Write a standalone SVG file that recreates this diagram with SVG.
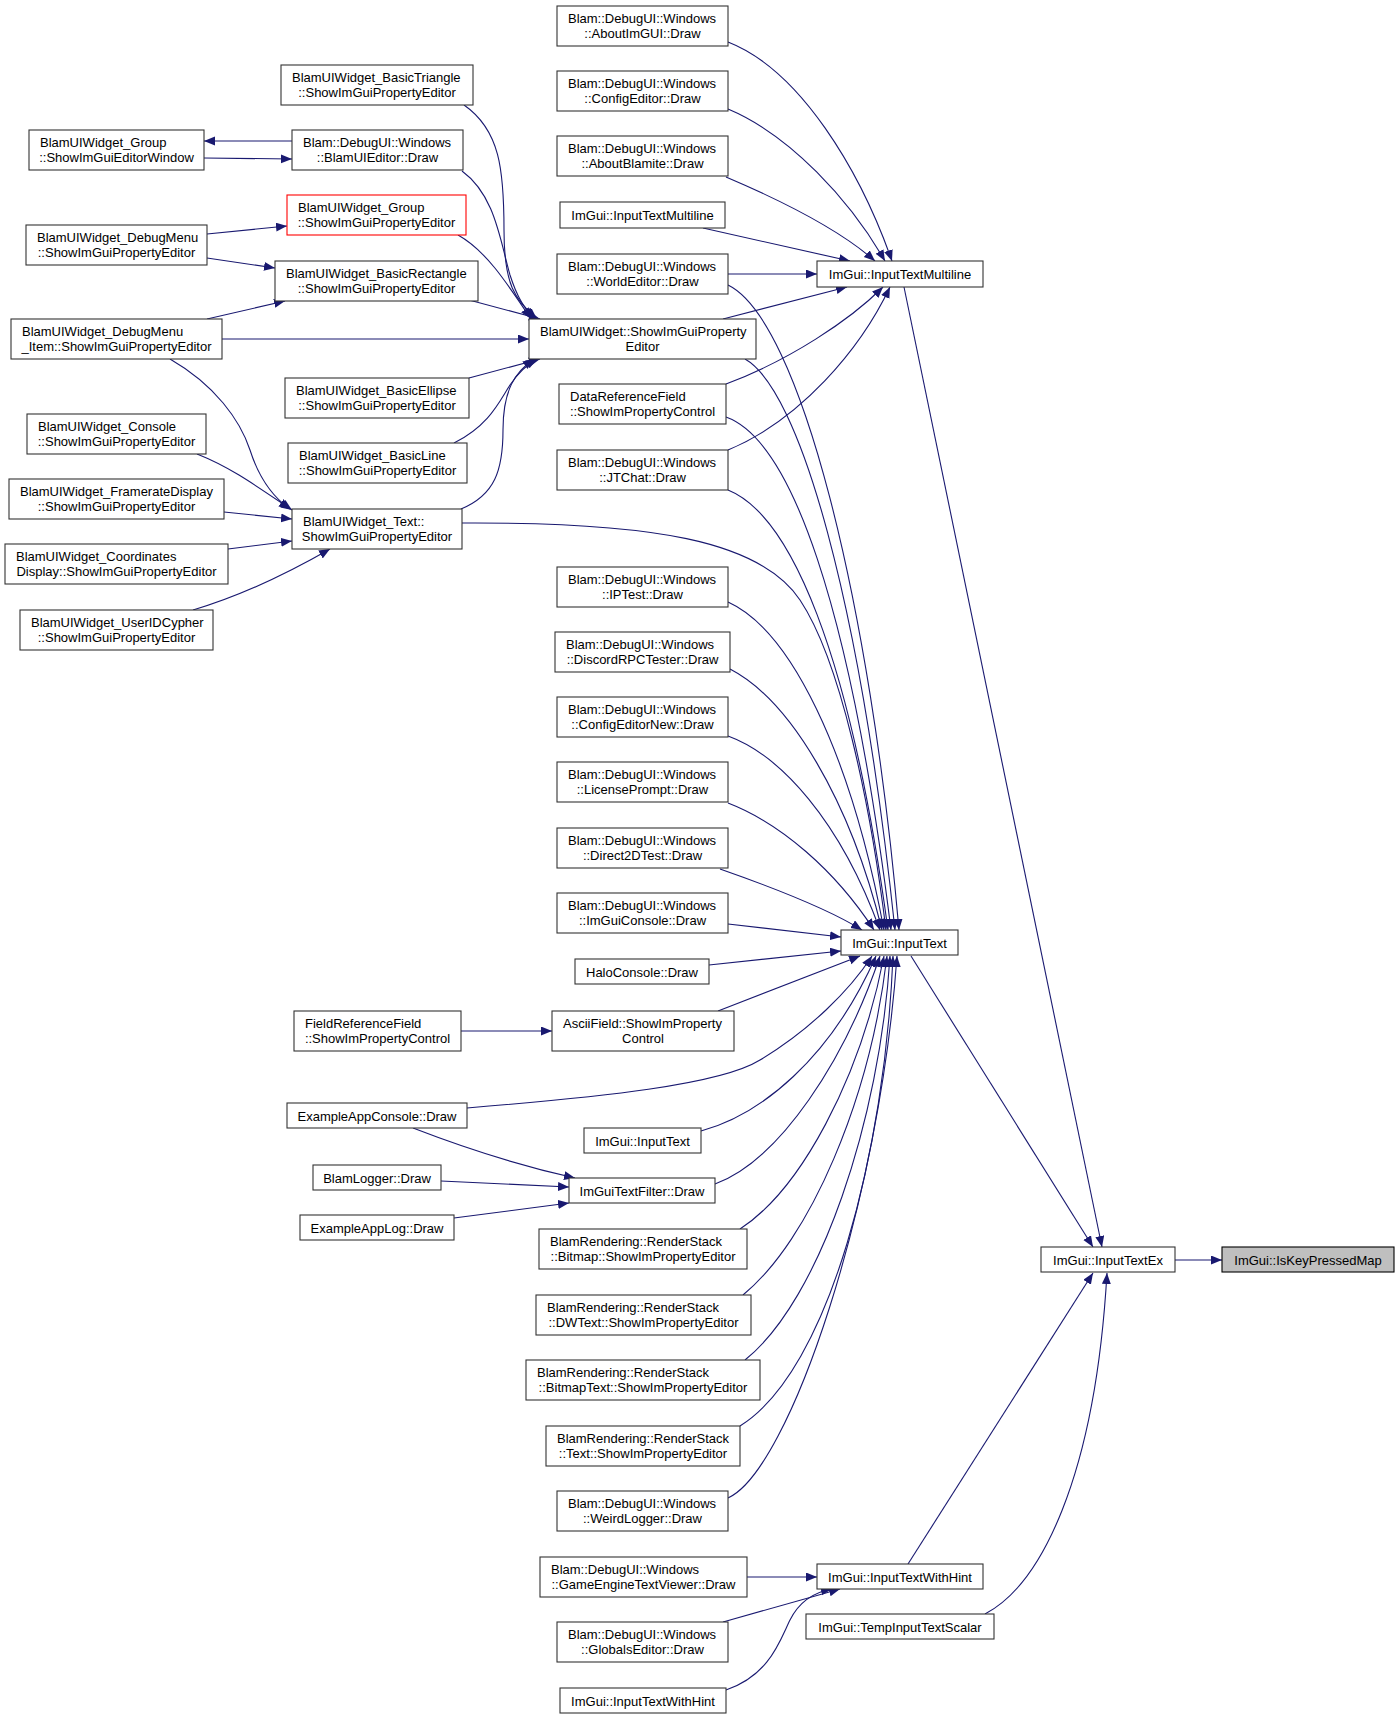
<svg xmlns="http://www.w3.org/2000/svg" width="1400" height="1719" viewBox="0 0 1400 1719">
<style>
rect{fill:#fff;stroke:#333;stroke-width:1.1}
.red rect{stroke:#ff0000}
.sel rect{fill:#bfbfbf;stroke:#000}
text{font-family:"Liberation Sans",Arial,sans-serif;font-size:13px;fill:#000}
.m{text-anchor:middle}
#edges path{fill:none;stroke:#191970;stroke-width:1.1;marker-end:url(#a)}
</style>
<defs>
<marker id="a" markerWidth="12" markerHeight="10" refX="11" refY="4.5" orient="auto" markerUnits="userSpaceOnUse"><path d="M0,0 L11,4.5 L0,9 z" fill="#191970"/></marker>
</defs>
<rect x="0" y="0" width="1400" height="1719" style="fill:#fff;stroke:none"/>
<g id="edges">
<path d="M1175,1260 L1222,1260"/>
<path d="M904,287 L1102,1247"/>
<path d="M911,956 L1093,1247"/>
<path d="M908,1564 L1093,1273"/>
<path d="M985,1614 C1040,1585 1095,1480 1107,1273"/>
<path d="M728,42 C800,70 860,170 892,261"/>
<path d="M728,109 C790,135 850,200 885,261"/>
<path d="M726,177 C780,200 840,230 875,261"/>
<path d="M703,228 L850,261"/>
<path d="M728,274 L817,274"/>
<path d="M723,319 L847,287"/>
<path d="M726,384 C790,360 850,320 883,287"/>
<path d="M728,450 C800,420 860,350 890,287"/>
<path d="M728,285 C800,320 870,600 899,930"/>
<path d="M745,359 C800,390 860,600 895,930"/>
<path d="M726,417 C790,440 850,600 891,930"/>
<path d="M728,490 C790,515 850,650 888,930"/>
<path d="M462,523 C650,522 760,540 800,600 C840,660 870,800 886,930"/>
<path d="M728,602 C790,630 850,750 884,930"/>
<path d="M730,669 C790,700 850,800 882,930"/>
<path d="M728,736 C780,755 840,820 880,930"/>
<path d="M728,803 C780,823 835,870 874,930"/>
<path d="M720,869 C780,890 830,910 862,930"/>
<path d="M728,924 L841,937"/>
<path d="M709,965 L841,951"/>
<path d="M718,1011 L860,956"/>
<path d="M467,1108 C600,1097 720,1085 760,1060 C810,1030 850,990 872,956"/>
<path d="M701,1131 C760,1115 830,1060 876,956"/>
<path d="M715,1184 C780,1160 845,1060 880,956"/>
<path d="M740,1229 C800,1190 860,1080 884,956"/>
<path d="M743,1295 C810,1240 870,1100 887,956"/>
<path d="M745,1360 C820,1300 880,1120 890,956"/>
<path d="M740,1426 C830,1370 885,1150 893,956"/>
<path d="M728,1498 C790,1470 880,1200 897,956"/>
<path d="M464,105 C500,130 504,170 504,230 C504,285 515,300 537,319"/>
<path d="M462,171 C495,195 500,240 510,275 C518,300 525,308 534,319"/>
<path d="M458,235 C485,250 505,280 531,319"/>
<path d="M469,300 L540,319"/>
<path d="M222,339 L529,339"/>
<path d="M469,378 L540,359"/>
<path d="M454,443 C490,425 500,400 510,385 C520,370 528,364 537,359"/>
<path d="M461,509 C495,495 503,470 503,430 C503,390 515,372 534,359"/>
<path d="M207,258 L275,268"/>
<path d="M207,319 L285,301"/>
<path d="M207,234 L287,226"/>
<path d="M292,141 L204,141"/>
<path d="M204,158 L292,159"/>
<path d="M170,359 C215,385 240,420 250,450 C258,475 270,495 290,509"/>
<path d="M197,454 C230,467 255,485 292,510"/>
<path d="M224,512 L292,519"/>
<path d="M228,549 L292,541"/>
<path d="M193,610 C240,596 290,572 330,549"/>
<path d="M461,1031 L552,1031"/>
<path d="M413,1128 C470,1150 530,1168 575,1178"/>
<path d="M441,1181 L569,1187"/>
<path d="M454,1218 L569,1203"/>
<path d="M747,1577 L817,1577"/>
<path d="M723,1622 L840,1589"/>
<path d="M726,1690 C770,1675 780,1640 790,1620 C800,1600 815,1592 832,1589"/>
</g>
<g id="n1"><rect x="29" y="130" width="175" height="40"/><text x="40" y="146.5">BlamUIWidget_Group</text><text class="m" x="116.5" y="161.5">::ShowImGuiEditorWindow</text></g>
<g id="n2"><rect x="26" y="225" width="181" height="40"/><text x="37" y="241.5">BlamUIWidget_DebugMenu</text><text class="m" x="116.5" y="256.5">::ShowImGuiPropertyEditor</text></g>
<g id="n3"><rect x="11" y="319" width="211" height="40"/><text x="22" y="335.5">BlamUIWidget_DebugMenu</text><text class="m" x="116.5" y="350.5">_Item::ShowImGuiPropertyEditor</text></g>
<g id="n4"><rect x="27" y="414" width="179" height="40"/><text x="38" y="430.5">BlamUIWidget_Console</text><text class="m" x="116.5" y="445.5">::ShowImGuiPropertyEditor</text></g>
<g id="n5"><rect x="9" y="479" width="215" height="40"/><text x="20" y="495.5">BlamUIWidget_FramerateDisplay</text><text class="m" x="116.5" y="510.5">::ShowImGuiPropertyEditor</text></g>
<g id="n6"><rect x="5" y="544" width="223" height="40"/><text x="16" y="560.5">BlamUIWidget_Coordinates</text><text class="m" x="116.5" y="575.5">Display::ShowImGuiPropertyEditor</text></g>
<g id="n7"><rect x="20" y="610" width="193" height="40"/><text x="31" y="626.5">BlamUIWidget_UserIDCypher</text><text class="m" x="116.5" y="641.5">::ShowImGuiPropertyEditor</text></g>
<g id="n8"><rect x="281" y="65" width="192" height="40"/><text x="292" y="81.5">BlamUIWidget_BasicTriangle</text><text class="m" x="377" y="96.5">::ShowImGuiPropertyEditor</text></g>
<g id="n9"><rect x="292" y="130" width="171" height="40"/><text x="303" y="146.5">Blam::DebugUI::Windows</text><text class="m" x="377.5" y="161.5">::BlamUIEditor::Draw</text></g>
<g id="n10" class="red"><rect x="287" y="195" width="179" height="40"/><text x="298" y="211.5">BlamUIWidget_Group</text><text class="m" x="376.5" y="226.5">::ShowImGuiPropertyEditor</text></g>
<g id="n11"><rect x="275" y="261" width="203" height="40"/><text x="286" y="277.5">BlamUIWidget_BasicRectangle</text><text class="m" x="376.5" y="292.5">::ShowImGuiPropertyEditor</text></g>
<g id="n12"><rect x="285" y="378" width="184" height="40"/><text x="296" y="394.5">BlamUIWidget_BasicEllipse</text><text class="m" x="377" y="409.5">::ShowImGuiPropertyEditor</text></g>
<g id="n13"><rect x="288" y="443" width="179" height="40"/><text x="299" y="459.5">BlamUIWidget_BasicLine</text><text class="m" x="377.5" y="474.5">::ShowImGuiPropertyEditor</text></g>
<g id="n14"><rect x="292" y="509" width="170" height="40"/><text x="303" y="525.5">BlamUIWidget_Text::</text><text class="m" x="377" y="540.5">ShowImGuiPropertyEditor</text></g>
<g id="n15"><rect x="294" y="1011" width="167" height="40"/><text x="305" y="1027.5">FieldReferenceField</text><text class="m" x="377.5" y="1042.5">::ShowImPropertyControl</text></g>
<g id="n16"><rect x="287" y="1103" width="180" height="25"/><text class="m" x="377" y="1120.5">ExampleAppConsole::Draw</text></g>
<g id="n17"><rect x="313" y="1165" width="128" height="25"/><text class="m" x="377" y="1182.5">BlamLogger::Draw</text></g>
<g id="n18"><rect x="300" y="1215" width="154" height="25"/><text class="m" x="377" y="1232.5">ExampleAppLog::Draw</text></g>
<g id="n19"><rect x="557" y="6" width="171" height="40"/><text x="568" y="22.5">Blam::DebugUI::Windows</text><text class="m" x="642.5" y="37.5">::AboutImGUI::Draw</text></g>
<g id="n20"><rect x="557" y="71" width="171" height="40"/><text x="568" y="87.5">Blam::DebugUI::Windows</text><text class="m" x="642.5" y="102.5">::ConfigEditor::Draw</text></g>
<g id="n21"><rect x="557" y="136" width="171" height="40"/><text x="568" y="152.5">Blam::DebugUI::Windows</text><text class="m" x="642.5" y="167.5">::AboutBlamite::Draw</text></g>
<g id="n22"><rect x="560" y="202" width="165" height="26"/><text class="m" x="642.5" y="219.5">ImGui::InputTextMultiline</text></g>
<g id="n23"><rect x="557" y="254" width="171" height="40"/><text x="568" y="270.5">Blam::DebugUI::Windows</text><text class="m" x="642.5" y="285.5">::WorldEditor::Draw</text></g>
<g id="n24"><rect x="529" y="319" width="227" height="40"/><text x="540" y="335.5">BlamUIWidget::ShowImGuiProperty</text><text class="m" x="642.5" y="350.5">Editor</text></g>
<g id="n25"><rect x="559" y="384" width="167" height="40"/><text x="570" y="400.5">DataReferenceField</text><text class="m" x="642.5" y="415.5">::ShowImPropertyControl</text></g>
<g id="n26"><rect x="557" y="450" width="171" height="40"/><text x="568" y="466.5">Blam::DebugUI::Windows</text><text class="m" x="642.5" y="481.5">::JTChat::Draw</text></g>
<g id="n27"><rect x="557" y="567" width="171" height="40"/><text x="568" y="583.5">Blam::DebugUI::Windows</text><text class="m" x="642.5" y="598.5">::IPTest::Draw</text></g>
<g id="n28"><rect x="555" y="632" width="175" height="40"/><text x="566" y="648.5">Blam::DebugUI::Windows</text><text class="m" x="642.5" y="663.5">::DiscordRPCTester::Draw</text></g>
<g id="n29"><rect x="557" y="697" width="171" height="40"/><text x="568" y="713.5">Blam::DebugUI::Windows</text><text class="m" x="642.5" y="728.5">::ConfigEditorNew::Draw</text></g>
<g id="n30"><rect x="557" y="762" width="171" height="40"/><text x="568" y="778.5">Blam::DebugUI::Windows</text><text class="m" x="642.5" y="793.5">::LicensePrompt::Draw</text></g>
<g id="n31"><rect x="557" y="828" width="171" height="40"/><text x="568" y="844.5">Blam::DebugUI::Windows</text><text class="m" x="642.5" y="859.5">::Direct2DTest::Draw</text></g>
<g id="n32"><rect x="557" y="893" width="171" height="40"/><text x="568" y="909.5">Blam::DebugUI::Windows</text><text class="m" x="642.5" y="924.5">::ImGuiConsole::Draw</text></g>
<g id="n33"><rect x="575" y="959" width="134" height="25"/><text class="m" x="642" y="976.5">HaloConsole::Draw</text></g>
<g id="n34"><rect x="552" y="1011" width="182" height="40"/><text x="563" y="1027.5">AsciiField::ShowImProperty</text><text class="m" x="643" y="1042.5">Control</text></g>
<g id="n35"><rect x="584" y="1128" width="117" height="25"/><text class="m" x="642.5" y="1145.5">ImGui::InputText</text></g>
<g id="n36"><rect x="569" y="1178" width="146" height="25"/><text class="m" x="642" y="1195.5">ImGuiTextFilter::Draw</text></g>
<g id="n37"><rect x="539" y="1229" width="208" height="40"/><text x="550" y="1245.5">BlamRendering::RenderStack</text><text class="m" x="643" y="1260.5">::Bitmap::ShowImPropertyEditor</text></g>
<g id="n38"><rect x="536" y="1295" width="215" height="40"/><text x="547" y="1311.5">BlamRendering::RenderStack</text><text class="m" x="643.5" y="1326.5">::DWText::ShowImPropertyEditor</text></g>
<g id="n39"><rect x="526" y="1360" width="234" height="40"/><text x="537" y="1376.5">BlamRendering::RenderStack</text><text class="m" x="643" y="1391.5">::BitmapText::ShowImPropertyEditor</text></g>
<g id="n40"><rect x="546" y="1426" width="194" height="40"/><text x="557" y="1442.5">BlamRendering::RenderStack</text><text class="m" x="643" y="1457.5">::Text::ShowImPropertyEditor</text></g>
<g id="n41"><rect x="557" y="1491" width="171" height="40"/><text x="568" y="1507.5">Blam::DebugUI::Windows</text><text class="m" x="642.5" y="1522.5">::WeirdLogger::Draw</text></g>
<g id="n42"><rect x="540" y="1557" width="207" height="40"/><text x="551" y="1573.5">Blam::DebugUI::Windows</text><text class="m" x="643.5" y="1588.5">::GameEngineTextViewer::Draw</text></g>
<g id="n43"><rect x="557" y="1622" width="171" height="40"/><text x="568" y="1638.5">Blam::DebugUI::Windows</text><text class="m" x="642.5" y="1653.5">::GlobalsEditor::Draw</text></g>
<g id="n44"><rect x="560" y="1688" width="166" height="25"/><text class="m" x="643" y="1705.5">ImGui::InputTextWithHint</text></g>
<g id="n45"><rect x="817" y="261" width="166" height="26"/><text class="m" x="900" y="278.5">ImGui::InputTextMultiline</text></g>
<g id="n46"><rect x="841" y="930" width="117" height="25"/><text class="m" x="899.5" y="947.5">ImGui::InputText</text></g>
<g id="n47"><rect x="817" y="1564" width="166" height="25"/><text class="m" x="900" y="1581.5">ImGui::InputTextWithHint</text></g>
<g id="n48"><rect x="806" y="1614" width="188" height="25"/><text class="m" x="900" y="1631.5">ImGui::TempInputTextScalar</text></g>
<g id="n49"><rect x="1041" y="1247" width="134" height="25"/><text class="m" x="1108" y="1264.5">ImGui::InputTextEx</text></g>
<g id="n50" class="sel"><rect x="1222" y="1247" width="172" height="25"/><text class="m" x="1308" y="1264.5">ImGui::IsKeyPressedMap</text></g>
</svg>
